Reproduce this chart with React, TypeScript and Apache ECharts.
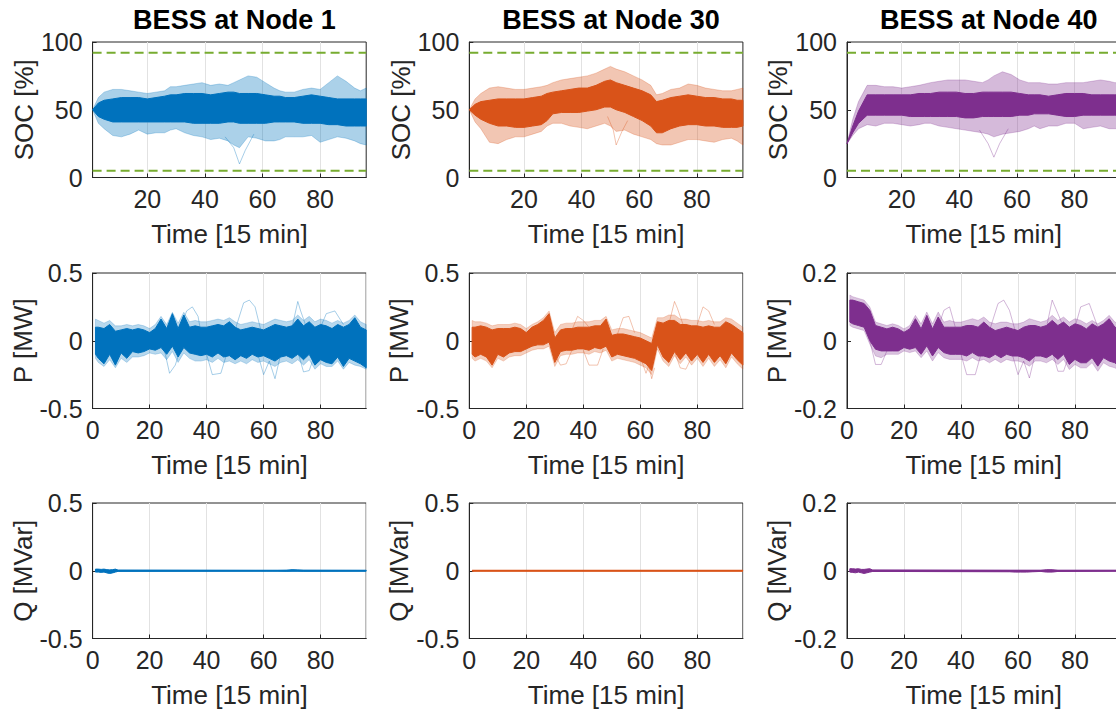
import React, { useEffect, useRef } from "react";
import * as echarts from "echarts";

const COLORS = ["#0072BD", "#D95319", "#7E2F8E"];
const titles = ["BESS at Node 1", "BESS at Node 30", "BESS at Node 40"];
const rowYNames = ["SOC [%]", "P [MW]", "Q [MVar]"];
const xName = "Time [15 min]";
const socLimits = [5, 92];
const socXTicks = [20, 40, 60, 80];

// ---- SOC time samples ----
const socT = [1, 3, 5, 8, 11, 14, 17, 20, 23, 26, 28, 30, 33, 36, 39, 42, 45, 48, 50, 52, 55, 58, 61, 64, 66, 68, 71, 74, 77, 80, 83, 86, 89, 92, 94, 96];

const soc1CoreHi = [50, 55, 57, 58, 59, 59, 59, 58, 59, 60, 61, 61, 62, 62, 62, 61, 62, 63, 63, 62, 62, 62, 61, 60, 60, 59, 59, 60, 61, 60, 59, 58, 58, 58, 58, 58];
const soc1CoreLo = [50, 45, 43, 41, 41, 41, 41, 41, 41, 41, 41, 41, 41, 40, 40, 40, 40, 41, 41, 40, 40, 40, 40, 41, 41, 41, 41, 40, 40, 40, 39, 39, 38, 38, 38, 38];
const soc1Hi = [50, 59, 63, 65, 65, 64, 63, 62, 63, 64, 67, 67, 68, 69, 70, 68, 69, 68, 70, 72, 75, 74, 70, 66, 64, 63, 63, 65, 66, 65, 70, 75, 71, 66, 64, 66];
const soc1Lo = [50, 40, 36, 31, 30, 32, 35, 32, 33, 33, 35, 36, 33, 31, 30, 28, 29, 27, 24, 22, 30, 29, 27, 27, 28, 30, 30, 30, 31, 26, 28, 30, 29, 27, 25, 24];
const soc1Out = [[[47, 30], [50, 22], [52, 10], [54, 20], [57, 32]]];

const soc2CoreHi = [50, 54, 56, 57, 58, 58, 58, 58, 59, 60, 62, 63, 64, 65, 66, 66, 68, 71, 72, 70, 68, 66, 64, 61, 56, 57, 59, 60, 61, 60, 59, 59, 58, 58, 57, 57];
const soc2CoreLo = [50, 46, 43, 40, 38, 38, 37, 37, 38, 39, 42, 47, 48, 48, 48, 49, 50, 52, 52, 50, 48, 45, 42, 38, 33, 33, 36, 38, 39, 39, 38, 38, 37, 37, 37, 38];
const soc2Hi = [50, 58, 62, 66, 67, 66, 65, 65, 66, 67, 68, 70, 72, 73, 74, 75, 77, 80, 82, 80, 78, 75, 72, 68, 61, 62, 65, 66, 69, 68, 66, 65, 64, 64, 65, 66];
const soc2Lo = [50, 41, 36, 26, 25, 28, 30, 30, 32, 34, 38, 40, 40, 38, 37, 36, 38, 40, 38, 34, 35, 32, 30, 28, 25, 24, 24, 26, 28, 28, 27, 26, 28, 29, 27, 24];
const soc2Out = [[[49, 45], [51, 35], [52, 24], [54, 34], [56, 42]]];

const soc3CoreHi = [25, 38, 49, 61, 61, 61, 61, 61, 61, 62, 62, 62, 63, 63, 63, 62, 62, 63, 63, 63, 63, 63, 62, 61, 61, 61, 60, 61, 62, 62, 62, 61, 61, 61, 61, 61];
const soc3CoreLo = [25, 33, 40, 46, 46, 46, 46, 46, 45, 45, 45, 45, 45, 45, 45, 44, 44, 45, 45, 45, 45, 45, 46, 46, 47, 47, 47, 46, 45, 45, 46, 46, 46, 46, 46, 46];
const soc3Hi = [25, 43, 56, 68, 68, 67, 67, 66, 67, 68, 69, 70, 71, 72, 72, 72, 71, 70, 72, 75, 78, 76, 72, 70, 70, 70, 69, 69, 70, 70, 70, 71, 72, 71, 70, 70];
const soc3Lo = [25, 31, 36, 39, 38, 40, 40, 39, 38, 39, 40, 40, 38, 37, 36, 35, 34, 33, 32, 30, 32, 33, 34, 36, 38, 36, 38, 38, 40, 40, 36, 37, 38, 36, 36, 36];
const soc3Out = [[[47, 35], [50, 25], [52, 15], [54, 25], [57, 36]]];

// ---- P time samples ----
const pT = [1, 2, 4, 6, 8, 10, 12, 14, 16, 18, 20, 22, 24, 26, 28, 30, 32, 34, 36, 38, 40, 42, 44, 46, 48, 50, 52, 54, 56, 58, 60, 62, 64, 66, 68, 70, 72, 74, 76, 78, 80, 82, 84, 86, 88, 90, 92, 94, 96];

const p1CoreHi = [0.10, 0.10, 0.09, 0.12, 0.07, 0.08, 0.09, 0.08, 0.09, 0.08, 0.06, 0.09, 0.16, 0.09, 0.20, 0.09, 0.19, 0.10, 0.11, 0.10, 0.10, 0.11, 0.12, 0.11, 0.14, 0.10, 0.08, 0.09, 0.10, 0.09, 0.08, 0.10, 0.12, 0.11, 0.10, 0.11, 0.16, 0.11, 0.14, 0.10, 0.12, 0.11, 0.09, 0.12, 0.10, 0.12, 0.17, 0.10, 0.08];
const p1CoreLo = [-0.10, -0.13, -0.17, -0.10, -0.18, -0.09, -0.13, -0.08, -0.09, -0.08, -0.06, -0.07, -0.05, -0.10, -0.04, -0.12, -0.05, -0.09, -0.10, -0.11, -0.10, -0.12, -0.09, -0.12, -0.11, -0.14, -0.11, -0.13, -0.10, -0.12, -0.11, -0.13, -0.15, -0.12, -0.11, -0.13, -0.10, -0.14, -0.10, -0.18, -0.14, -0.16, -0.17, -0.12, -0.19, -0.13, -0.15, -0.17, -0.20];
const p1Hi = [0.16, 0.15, 0.13, 0.15, 0.11, 0.11, 0.12, 0.11, 0.12, 0.11, 0.09, 0.12, 0.18, 0.12, 0.21, 0.13, 0.21, 0.14, 0.15, 0.14, 0.14, 0.15, 0.16, 0.15, 0.17, 0.14, 0.12, 0.13, 0.14, 0.13, 0.12, 0.14, 0.16, 0.15, 0.14, 0.15, 0.19, 0.15, 0.18, 0.14, 0.16, 0.15, 0.13, 0.15, 0.13, 0.15, 0.19, 0.14, 0.12];
const p1Lo = [-0.13, -0.16, -0.19, -0.14, -0.20, -0.13, -0.16, -0.12, -0.12, -0.11, -0.09, -0.10, -0.09, -0.14, -0.08, -0.16, -0.09, -0.13, -0.15, -0.15, -0.14, -0.16, -0.13, -0.16, -0.15, -0.17, -0.15, -0.17, -0.14, -0.16, -0.15, -0.17, -0.19, -0.16, -0.15, -0.17, -0.14, -0.18, -0.14, -0.21, -0.17, -0.19, -0.19, -0.15, -0.21, -0.16, -0.18, -0.19, -0.21];
const p1Out = [
  [[30, 0.05], [33, 0.22], [35, 0.25], [37, 0.18], [38, 0.06]],
  [[50, 0.08], [53, 0.28], [55, 0.30], [57, 0.25], [59, 0.08]],
  [[70, 0.10], [72, 0.29], [73, 0.22], [75, 0.10]],
  [[80, 0.10], [82, 0.20], [85, 0.22], [88, 0.12]],
  [[25, -0.05], [27, -0.24], [29, -0.18], [31, -0.05]],
  [[40, -0.10], [42, -0.25], [45, -0.24], [47, -0.10]],
  [[58, -0.10], [60, -0.25], [62, -0.15], [64, -0.28], [66, -0.10]],
  [[72, -0.08], [74, -0.23], [76, -0.22], [78, -0.10]],
];

const p2CoreHi = [0.10, 0.10, 0.11, 0.10, 0.08, 0.09, 0.09, 0.09, 0.10, 0.09, 0.06, 0.10, 0.12, 0.15, 0.20, 0.02, 0.08, 0.09, 0.09, 0.10, 0.10, 0.10, 0.11, 0.11, 0.16, 0.04, 0.05, 0.05, 0.04, 0.03, 0.02, 0.00, -0.02, 0.14, 0.13, 0.15, 0.15, 0.12, 0.12, 0.11, 0.11, 0.10, 0.11, 0.10, 0.10, 0.14, 0.12, 0.09, 0.06];
const p2CoreLo = [-0.10, -0.12, -0.10, -0.12, -0.18, -0.10, -0.12, -0.09, -0.08, -0.08, -0.06, -0.04, -0.03, -0.03, -0.01, -0.16, -0.08, -0.07, -0.07, -0.06, -0.06, -0.07, -0.05, -0.06, -0.04, -0.12, -0.10, -0.11, -0.12, -0.13, -0.15, -0.17, -0.22, -0.03, -0.12, -0.16, -0.08, -0.14, -0.09, -0.15, -0.10, -0.16, -0.10, -0.16, -0.11, -0.17, -0.09, -0.14, -0.18];
const p2Hi = [0.15, 0.14, 0.14, 0.13, 0.11, 0.12, 0.12, 0.12, 0.13, 0.12, 0.09, 0.12, 0.14, 0.17, 0.22, 0.06, 0.12, 0.13, 0.13, 0.14, 0.14, 0.14, 0.15, 0.15, 0.18, 0.08, 0.09, 0.09, 0.08, 0.07, 0.06, 0.04, 0.02, 0.17, 0.17, 0.19, 0.19, 0.16, 0.16, 0.15, 0.15, 0.14, 0.15, 0.14, 0.14, 0.17, 0.16, 0.13, 0.10];
const p2Lo = [-0.13, -0.15, -0.13, -0.15, -0.20, -0.13, -0.15, -0.12, -0.11, -0.11, -0.09, -0.07, -0.06, -0.06, -0.04, -0.19, -0.11, -0.10, -0.10, -0.09, -0.09, -0.10, -0.08, -0.09, -0.07, -0.15, -0.13, -0.14, -0.15, -0.16, -0.18, -0.20, -0.25, -0.06, -0.15, -0.19, -0.11, -0.17, -0.12, -0.18, -0.13, -0.19, -0.13, -0.19, -0.14, -0.20, -0.12, -0.17, -0.21];
const p2Out = [
  [[36, 0.08], [38, 0.18], [40, 0.15], [42, 0.10]],
  [[52, 0.05], [54, 0.17], [56, 0.18], [58, 0.06]],
  [[70, 0.12], [72, 0.29], [73, 0.24], [75, 0.12]],
  [[80, 0.12], [82, 0.25], [84, 0.22], [86, 0.12]],
  [[30, -0.10], [32, -0.18], [34, -0.17], [36, -0.07]],
  [[40, -0.07], [42, -0.18], [45, -0.18], [47, -0.06]],
  [[60, -0.12], [62, -0.24], [63, -0.18], [64, -0.28], [65, -0.20]],
  [[72, -0.08], [74, -0.20], [76, -0.21], [78, -0.12]],
];

const p3CoreHi = [0.12, 0.12, 0.115, 0.11, 0.09, 0.045, 0.04, 0.035, 0.04, 0.035, 0.025, 0.035, 0.065, 0.035, 0.075, 0.035, 0.07, 0.04, 0.04, 0.04, 0.04, 0.045, 0.045, 0.04, 0.055, 0.04, 0.03, 0.035, 0.04, 0.035, 0.03, 0.04, 0.045, 0.045, 0.04, 0.045, 0.06, 0.045, 0.055, 0.04, 0.05, 0.045, 0.035, 0.05, 0.04, 0.05, 0.065, 0.04, 0.035];
const p3CoreLo = [0.055, 0.05, 0.045, 0.04, 0.0, -0.025, -0.03, -0.03, -0.03, -0.03, -0.02, -0.025, -0.02, -0.04, -0.015, -0.045, -0.02, -0.035, -0.04, -0.04, -0.04, -0.045, -0.035, -0.045, -0.045, -0.05, -0.04, -0.05, -0.04, -0.045, -0.045, -0.05, -0.06, -0.045, -0.045, -0.05, -0.04, -0.055, -0.04, -0.07, -0.055, -0.065, -0.065, -0.05, -0.075, -0.05, -0.06, -0.065, -0.08];
const p3Hi = [0.135, 0.13, 0.125, 0.12, 0.10, 0.055, 0.05, 0.045, 0.05, 0.045, 0.035, 0.045, 0.075, 0.05, 0.085, 0.05, 0.085, 0.055, 0.06, 0.055, 0.055, 0.06, 0.065, 0.06, 0.07, 0.055, 0.05, 0.055, 0.055, 0.05, 0.05, 0.055, 0.065, 0.06, 0.055, 0.06, 0.075, 0.06, 0.07, 0.055, 0.065, 0.06, 0.05, 0.06, 0.05, 0.06, 0.075, 0.055, 0.05];
const p3Lo = [0.045, 0.04, 0.035, 0.03, -0.01, -0.045, -0.05, -0.04, -0.04, -0.04, -0.03, -0.035, -0.03, -0.05, -0.03, -0.06, -0.035, -0.05, -0.055, -0.055, -0.055, -0.06, -0.05, -0.06, -0.055, -0.065, -0.055, -0.065, -0.055, -0.06, -0.06, -0.065, -0.075, -0.06, -0.06, -0.065, -0.055, -0.07, -0.055, -0.085, -0.07, -0.08, -0.08, -0.065, -0.09, -0.065, -0.075, -0.08, -0.09];
const p3Out = [
  [[32, 0.04], [34, 0.09], [36, 0.10], [38, 0.04]],
  [[50, 0.03], [53, 0.11], [55, 0.12], [57, 0.09], [59, 0.03]],
  [[70, 0.04], [72, 0.12], [74, 0.08], [76, 0.04]],
  [[80, 0.04], [82, 0.10], [85, 0.11], [88, 0.04]],
  [[8, 0.0], [10, -0.07], [12, -0.07], [14, -0.03]],
  [[40, -0.04], [42, -0.10], [45, -0.10], [47, -0.04]],
  [[58, -0.04], [60, -0.10], [62, -0.06], [64, -0.11], [66, -0.04]],
  [[72, -0.03], [74, -0.09], [76, -0.09], [78, -0.04]],
];

// ---- Q time samples ----
const qT = [1, 2, 3, 4, 5, 6, 7, 8, 9, 57, 59, 61, 63, 65, 68, 70, 72, 74, 96];
const q1Hi = [0.012, 0.012, 0.010, 0.012, 0.008, 0.006, 0.008, 0.012, 0.004, 0.002, 0.002, 0.002, 0.002, 0.002, 0.003, 0.008, 0.006, 0.003, 0.002];
const q1Lo = [-0.010, -0.010, -0.012, -0.010, -0.016, -0.020, -0.016, -0.010, -0.004, -0.002, -0.002, -0.002, -0.002, -0.002, -0.003, -0.002, -0.002, -0.003, -0.002];
const q2Hi = [0.001, 0.001, 0.001, 0.001, 0.001, 0.001, 0.001, 0.001, 0.001, 0.001, 0.001, 0.001, 0.001, 0.001, 0.001, 0.001, 0.001, 0.001, 0.001];
const q2Lo = [-0.001, -0.001, -0.001, -0.001, -0.001, -0.001, -0.001, -0.001, -0.001, -0.001, -0.001, -0.001, -0.001, -0.001, -0.001, -0.001, -0.001, -0.001, -0.001];
const q3Hi = [0.006, 0.006, 0.005, 0.006, 0.004, 0.004, 0.005, 0.006, 0.002, 0.001, 0.001, 0.001, 0.001, 0.001, 0.001, 0.003, 0.003, 0.001, 0.001];
const q3Lo = [-0.004, -0.005, -0.006, -0.004, -0.006, -0.008, -0.006, -0.004, -0.002, -0.003, -0.004, -0.004, -0.004, -0.003, -0.002, -0.004, -0.004, -0.002, -0.001];
const qZeroT = [1, 96];
const qZero = [0, 0];

const yRanges = [
  [[0, 100, 50], [0, 100, 50], [0, 100, 50]],
  [[-0.5, 0.5, 0.5], [-0.5, 0.5, 0.5], [-0.2, 0.2, 0.2]],
  [[-0.5, 0.5, 0.5], [-0.5, 0.5, 0.5], [-0.2, 0.2, 0.2]],
];

const panels = [
  [
    { t: socT, hi: soc1Hi, lo: soc1Lo, cHi: soc1CoreHi, cLo: soc1CoreLo, out: soc1Out },
    { t: socT, hi: soc2Hi, lo: soc2Lo, cHi: soc2CoreHi, cLo: soc2CoreLo, out: soc2Out },
    { t: socT, hi: soc3Hi, lo: soc3Lo, cHi: soc3CoreHi, cLo: soc3CoreLo, out: soc3Out },
  ],
  [
    { t: pT, hi: p1Hi, lo: p1Lo, cHi: p1CoreHi, cLo: p1CoreLo, out: p1Out },
    { t: pT, hi: p2Hi, lo: p2Lo, cHi: p2CoreHi, cLo: p2CoreLo, out: p2Out },
    { t: pT, hi: p3Hi, lo: p3Lo, cHi: p3CoreHi, cLo: p3CoreLo, out: p3Out },
  ],
  [
    { t: qT, hi: null, lo: null, cHi: q1Hi, cLo: q1Lo, out: [] },
    { t: qT, hi: null, lo: null, cHi: q2Hi, cLo: q2Lo, out: [] },
    { t: qT, hi: null, lo: null, cHi: q3Hi, cLo: q3Lo, out: [] },
  ],
];

const FONT = "'Liberation Sans', Arial, Helvetica, sans-serif";
const INK = "#262626";
const colLeft = [92.6, 469.3, 847];
const rowTop = [42, 273, 503];
const GW = 273.6;
const GH = 135.5;

function bandSeries(idx: number, xs: number[], hi: number[], lo: number[], color: string, opacity: number, z: number, lw: number) {
  return {
    type: "custom",
    xAxisIndex: idx,
    yAxisIndex: idx,
    silent: true,
    z,
    data: [[xs[0], hi[0]]],
    renderItem: (_p: any, api: any) => {
      const pts: number[][] = [];
      for (let i = 0; i < xs.length; i++) pts.push(api.coord([xs[i], hi[i]]));
      for (let i = xs.length - 1; i >= 0; i--) pts.push(api.coord([xs[i], lo[i]]));
      return {
        type: "polygon",
        shape: { points: pts },
        style: { fill: color, stroke: color, lineWidth: lw, opacity },
      };
    },
  };
}

function buildOption() {
  const grid: any[] = [];
  const xAxis: any[] = [];
  const yAxis: any[] = [];
  const series: any[] = [];
  const title: any[] = [];
  const axLine = { color: INK, width: 1 };

  for (let r = 0; r < 3; r++) {
    for (let c = 0; c < 3; c++) {
      const idx = r * 3 + c;
      const color = COLORS[c];
      grid.push({
        left: colLeft[c],
        top: rowTop[r],
        width: GW,
        height: GH,
        show: true,
        borderColor: INK,
        borderWidth: 1,
        backgroundColor: "transparent",
        containLabel: false,
        outerBoundsMode: "none",
      });
      const isSoc = r === 0;
      xAxis.push({
        gridIndex: idx,
        type: "value",
        min: isSoc ? 1 : 0,
        max: 96,
        ...(isSoc ? {} : { interval: 20 }),
        name: xName,
        nameLocation: "middle",
        nameGap: 43,
        nameTextStyle: { fontSize: 26, color: INK, fontFamily: FONT },
        axisLine: { show: true, onZero: false, lineStyle: axLine },
        axisTick: { show: true, inside: true, length: 4, lineStyle: axLine, ...(isSoc ? { customValues: socXTicks } : {}) },
        axisLabel: {
          fontSize: 25,
          color: INK,
          fontFamily: FONT,
          margin: 9,
          ...(isSoc ? { customValues: socXTicks } : { showMaxLabel: false }),
        },
        splitLine: { show: true, lineStyle: { color: "#e2e2e2", width: 1 } },
      });
      const [ymin, ymax, yint] = yRanges[r][c];
      yAxis.push({
        gridIndex: idx,
        type: "value",
        min: ymin,
        max: ymax,
        interval: yint,
        name: rowYNames[r],
        nameLocation: "middle",
        nameGap: 55,
        nameRotate: 90,
        nameTextStyle: { fontSize: 26, color: INK, fontFamily: FONT },
        axisLine: { show: true, onZero: false, lineStyle: axLine },
        axisTick: { show: true, inside: true, length: 4, lineStyle: axLine },
        axisLabel: { fontSize: 25, color: INK, fontFamily: FONT, margin: 10 },
        splitLine: { show: false },
      });

      const p: any = panels[r][c];
      if (p.hi) series.push(bandSeries(idx, p.t, p.hi, p.lo, color, r === 0 ? 0.33 : 0.28, 2, 0.8));
      p.out.forEach((seg: number[][]) => {
        series.push({
          type: "line",
          xAxisIndex: idx,
          yAxisIndex: idx,
          data: seg,
          showSymbol: false,
          symbol: "none",
          silent: true,
          z: 3,
          lineStyle: { color, width: 1, opacity: 0.35 },
        });
      });
      series.push(bandSeries(idx, p.t, p.cHi, p.cLo, color, 1, 4, 1));
      if (r === 2) {
        series.push({
          type: "line",
          xAxisIndex: idx,
          yAxisIndex: idx,
          data: qZeroT.map((t, i) => [t, qZero[i]]),
          showSymbol: false,
          symbol: "none",
          silent: true,
          z: 5,
          lineStyle: { color, width: 2 },
        });
      }
      if (r === 0) {
        socLimits.forEach((lim) => {
          series.push({
            type: "line",
            xAxisIndex: idx,
            yAxisIndex: idx,
            data: [
              [socT[0], lim],
              [socT[socT.length - 1], lim],
            ],
            showSymbol: false,
            symbol: "none",
            silent: true,
            z: 6,
            lineStyle: { color: "#77AC30", width: 2, type: [9, 5] },
          });
        });
      }
    }
  }
  for (let c = 0; c < 3; c++) {
    title.push({
      text: titles[c],
      left: colLeft[c] + GW / 2,
      top: 1,
      textAlign: "center",
      textStyle: { fontSize: 27, fontWeight: "bold", color: "#000", fontFamily: FONT },
    });
  }
  return { animation: false, backgroundColor: "#ffffff", title, grid, xAxis, yAxis, series };
}

export default function App() {
  const ref = useRef<HTMLDivElement>(null);
  useEffect(() => {
    if (!ref.current) return;
    const chart = echarts.init(ref.current, undefined, { renderer: "svg" });
    chart.setOption(buildOption() as any);
    return () => chart.dispose();
  }, []);
  return <div ref={ref} style={{ position: "absolute", left: 0, top: 0, width: 1116, height: 713 }} />;
}
